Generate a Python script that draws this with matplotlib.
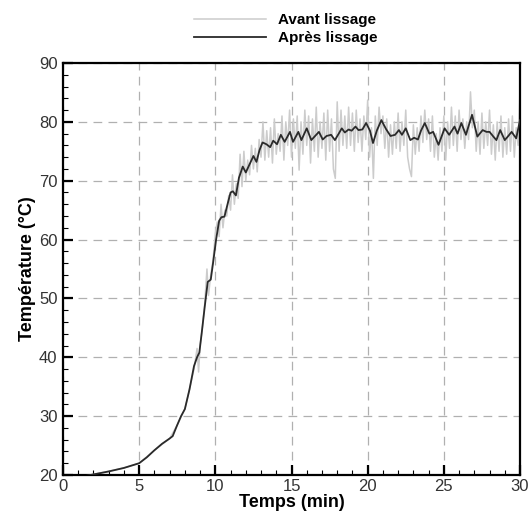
import numpy as np
import matplotlib.pyplot as plt
from matplotlib.ticker import MultipleLocator

# smoothed signal (Après lissage)
T_SMOOTH = [
    0, 1, 2, 3, 4, 5, 5.5, 6, 6.5, 7, 7.2, 7.5, 7.75, 8.0, 8.3, 8.6, 8.8, 8.95,
    9.1, 9.3, 9.5, 9.7, 9.85, 10.05, 10.25, 10.4, 10.6, 10.8, 11.0, 11.15, 11.35,
    11.55, 11.8, 12.0, 12.25, 12.5, 12.7, 12.9, 13.1, 13.35, 13.6, 13.8, 14.05,
    14.3, 14.55, 14.9, 15.1, 15.45, 15.65, 16.0, 16.3, 16.55, 16.8, 17.05, 17.3,
    17.6, 17.85, 18.1, 18.3, 18.5, 18.75, 18.95, 19.2, 19.4, 19.65, 19.9, 20.15,
    20.35, 20.6, 20.9, 21.2, 21.5, 21.8, 22.05, 22.25, 22.5, 22.8, 23.05, 23.3,
    23.5, 23.75, 24.05, 24.3, 24.65, 24.85, 25.05, 25.35, 25.7, 25.9, 26.15,
    26.45, 26.85, 27.2, 27.55, 27.8, 28.0, 28.25, 28.45, 28.7, 29.0, 29.2, 29.45,
    29.75, 30.0,
]
Y_SMOOTH = [
    19.2, 19.6, 20.1, 20.6, 21.2, 22.0, 23.0, 24.2, 25.3, 26.2, 26.6, 28.5, 30.0,
    31.2, 34.5, 38.5, 40.0, 40.8, 44.0, 48.5, 52.8, 53.2, 56.0, 60.0, 63.2, 63.8,
    63.9, 66.0, 68.0, 68.2, 67.5, 70.5, 72.4, 71.4, 72.8, 74.2, 73.2, 75.2, 76.5,
    76.2, 75.7, 76.8, 76.2, 77.8, 76.6, 78.3, 76.6, 78.3, 76.9, 78.9, 76.9, 77.6,
    78.3, 77.0, 77.6, 77.8, 76.9, 78.0, 78.9, 78.2, 78.7, 78.5, 79.2, 78.6, 78.7,
    79.8, 78.5, 76.4, 78.5, 80.3, 78.8, 77.6, 77.8, 78.6, 77.8, 78.9, 76.9, 77.3,
    77.0, 78.5, 79.8, 78.0, 78.3, 76.1, 77.5, 78.9, 77.8, 79.2, 78.0, 79.8, 77.8,
    81.2, 77.5, 78.6, 78.3, 78.3, 77.5, 76.9, 78.6, 76.9, 77.5, 78.3, 77.2, 80.3,
]

# raw signal (Avant lissage): sparse start, then one reading every 0.125 min
T_RAW_START = [0, 2, 4, 5, 6, 7, 7.5, 8, 8.3, 8.6, 8.8, 8.9, 9.0, 9.15, 9.3,
               9.45, 9.55, 9.7, 9.85]
Y_RAW_START = [19.2, 20.1, 21.2, 22.0, 24.2, 26.2, 28.5, 31.2, 34.5, 38.0, 41.5,
               37.5, 42.0, 45.0, 49.0, 55.0, 50.5, 54.0, 56.5]
Y_RAW = [
    61, 63, 60.5, 66, 62, 65, 64, 67.5,
    65, 71, 66, 69.5, 67, 74.5, 69, 75,
    70, 73.5, 71, 76, 72, 75.5, 71.5, 77,
    74, 80, 73.5, 78.5, 74, 79, 73, 80.5,
    74.5, 78, 75, 81, 73.5, 80, 76, 82,
    74, 80.5, 75.5, 81, 71.8, 80, 74.5, 82,
    76, 81, 73, 80.5, 75, 82.5, 74, 80,
    75.5, 81.5, 73.5, 82, 75, 80.5, 72, 70.4,
    83.4, 75, 82, 76, 81, 75.5, 82.5, 76,
    81.5, 75, 82, 76.5, 80.5, 75, 81, 77,
    83.7, 74, 79, 70.4, 81, 76, 82.5, 78,
    81, 75.5, 80.5, 74, 79.5, 74.5, 80, 75.5,
    81.5, 75, 80, 76, 82, 74, 72, 70.7,
    79.5, 74.5, 79, 75, 81, 76.5, 82, 77,
    80.5, 75, 81, 74, 78, 73.5, 79, 75,
    81, 73.5, 80, 75.5, 82.5, 76, 81, 75,
    82, 77, 80.5, 75.5, 80, 77, 85.1, 79,
    82, 75, 80, 74.5, 81.5, 75.5, 80, 76,
    82, 74.5, 79.5, 73.5, 80, 75, 81, 74,
    79, 74.5, 80.5, 75, 81, 74, 79, 76,
    85.4,
]
T_RAW = np.concatenate([T_RAW_START, np.linspace(10, 30, len(Y_RAW))])
Y_RAW_ALL = np.concatenate([Y_RAW_START, Y_RAW])

plt.rcParams["font.family"] = ["Liberation Sans", "DejaVu Sans"]

fig = plt.figure(figsize=(5.29, 5.13), dpi=100)
ax = fig.add_axes([63 / 529, 38 / 513, 457 / 529, 412 / 513])

ax.plot(T_RAW, Y_RAW_ALL, color="#cccccc", lw=1.1, label="Avant lissage", zorder=2)
ax.plot(T_SMOOTH, Y_SMOOTH, color="#2a2a2a", lw=1.3, label="Après lissage", zorder=3)

ax.set_xlim(0, 30)
ax.set_ylim(20, 90)
ax.xaxis.set_major_locator(MultipleLocator(5))
ax.xaxis.set_minor_locator(MultipleLocator(1))
ax.yaxis.set_major_locator(MultipleLocator(10))
ax.yaxis.set_minor_locator(MultipleLocator(2))
ax.tick_params(which="major", direction="in", length=7, width=1.6,
               labelsize=12, labelcolor="#333333", pad=3)
ax.tick_params(which="minor", direction="in", length=3.5, width=0.8)
ax.tick_params(axis="y", pad=4)
for spine in ax.spines.values():
    spine.set_linewidth(1.6)

ax.grid(which="major", color="#b0b0b0", lw=0.9, linestyle=(0, (7, 5)))

ax.set_xlabel("Temps (min)", fontsize=13, fontweight="bold", labelpad=0)
ax.set_ylabel("Température (°C)", fontsize=13, fontweight="bold", labelpad=2)

fig.legend(loc="upper center", bbox_to_anchor=(0.54, 0.995), frameon=False,
           handlelength=4.7, prop={"weight": "bold", "size": 11},
           labelspacing=0.25, borderaxespad=0.3)

fig.savefig("out.png", dpi=100)
